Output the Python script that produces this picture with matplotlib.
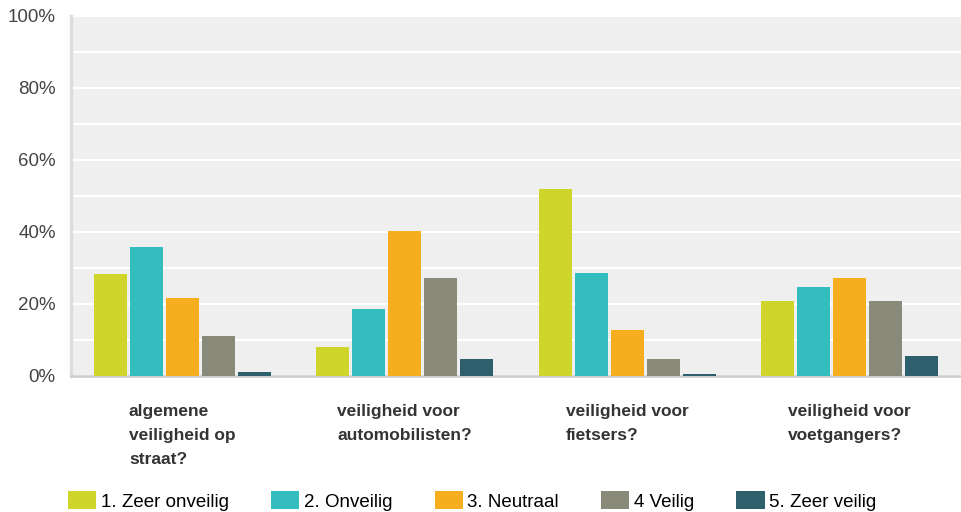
import numpy as np
import matplotlib
matplotlib.use("Agg")
import matplotlib.pyplot as plt

plt.rcParams['font.family'] = ['Liberation Sans', 'DejaVu Sans']

# Data
categories = ["algemene\nveiligheid op\nstraat?",
              "veiligheid voor\nautomobilisten?",
              "veiligheid voor\nfietsers?",
              "veiligheid voor\nvoetgangers?"]
series_names = ["1. Zeer onveilig", "2. Onveilig", "3. Neutraal", "4 Veilig", "5. Zeer veilig"]
zeer_onveilig = [28.2, 8.0, 51.9, 20.8]
onveilig = [35.8, 18.5, 28.5, 24.6]
neutraal = [21.6, 40.2, 12.7, 27.1]
veilig = [11.0, 27.1, 4.6, 20.8]
zeer_veilig = [1.0, 4.6, 0.5, 5.5]
colors = ["#cfd52a", "#33bdbf", "#f6ae1f", "#8a8a7a", "#2e5f6c"]

values = [zeer_onveilig, onveilig, neutraal, veilig, zeer_veilig]

fig = plt.figure(figsize=(9.61, 5.12), dpi=100)
ax = fig.add_axes([71 / 961, 1 - 376 / 512, 1 - 71 / 961, (376 - 15.7) / 512])
ax.set_facecolor("#efefef")

x = np.arange(len(categories))
step = 0.162
width = 0.148
for i, (vals, name, col) in enumerate(zip(values, series_names, colors)):
    ax.bar(x + (i - 2) * step, vals, width=width, color=col, label=name, zorder=3)

ax.set_xlim(-0.5, len(categories) - 0.5)
ax.set_ylim(0, 100)
ax.set_yticks(np.arange(0, 101, 20))
ax.set_yticklabels([f"{v}%" for v in range(0, 101, 20)], fontsize=13.5, color="#444444")
ax.set_yticks(np.arange(10, 100, 20), minor=True)
ax.grid(True, which="both", axis="y", color="white", linewidth=1.6, zorder=1)
ax.tick_params(axis="y", which="both", length=0, pad=11)

ax.set_xticks(x)
ax.set_xticklabels(categories, fontsize=12.5, fontweight="bold", color="#333333",
                   linespacing=1.75, va="top")
for lbl in ax.get_xticklabels():
    lbl.set_multialignment("left")
ax.tick_params(axis="x", length=0, pad=20)

for side in ["top", "right"]:
    ax.spines[side].set_visible(False)
ax.spines["left"].set_color("#dddddd")
ax.spines["left"].set_linewidth(2.5)
ax.spines["bottom"].set_color("#cccccc")
ax.spines["bottom"].set_linewidth(1.8)

fig.legend(loc="center left", bbox_to_anchor=(68 / 961, 1 - 501 / 512), ncol=5,
           frameon=False, fontsize=13.5, handlelength=1.5, handleheight=1.1,
           handletextpad=0.25, columnspacing=2.25, borderpad=0, borderaxespad=0)

fig.savefig("out.png", dpi=100)
